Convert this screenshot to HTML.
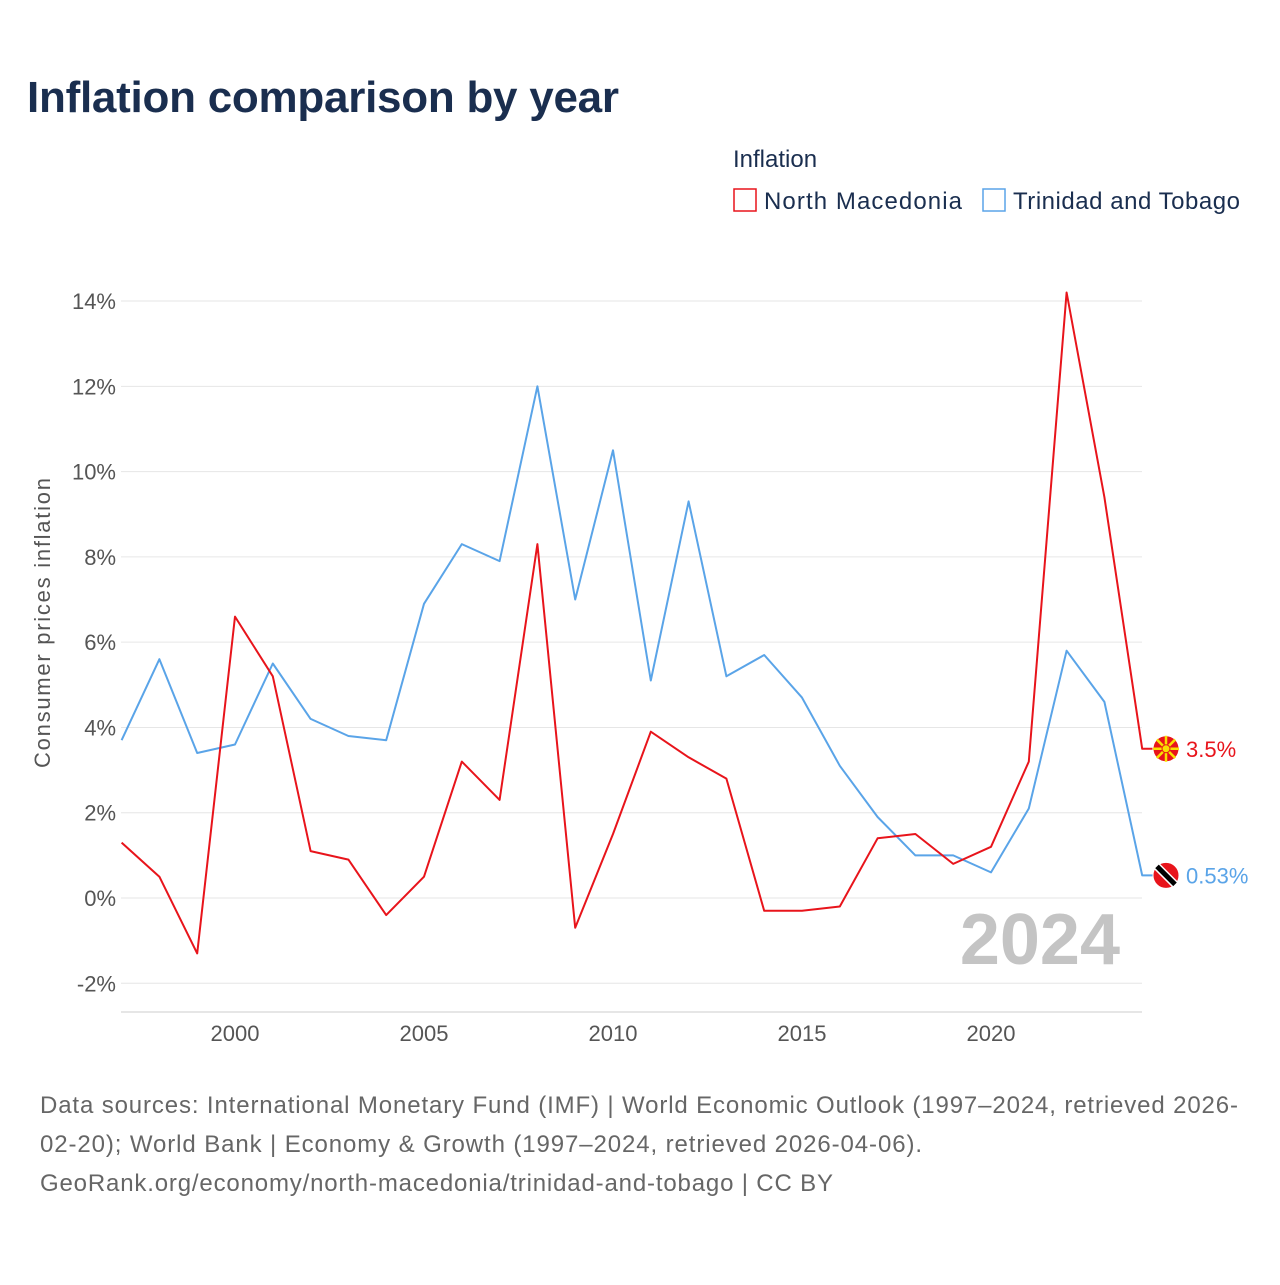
<!DOCTYPE html>
<html><head><meta charset="utf-8"><style>
body{margin:0;background:#fff;font-family:"Liberation Sans",sans-serif;}
svg text{font-family:"Liberation Sans",sans-serif;}
</style></head><body>
<svg id="chart" width="1280" height="1280" xmlns="http://www.w3.org/2000/svg">
<text x="27" y="112" font-size="44" font-weight="bold" fill="#1a2e4f" textLength="592">Inflation comparison by year</text>
<text x="733" y="167" font-size="24" fill="#1a2e4f">Inflation</text>
<g><rect x="734" y="189" width="22" height="22" fill="none" stroke="#e8141b" stroke-width="1.5"/><text x="764" y="209" font-size="24" fill="#1a2e4f" textLength="198">North Macedonia</text></g>
<g><rect x="983" y="189" width="22" height="22" fill="none" stroke="#5aa4e8" stroke-width="1.5"/><text x="1013" y="209" font-size="24" fill="#1a2e4f" textLength="227">Trinidad and Tobago</text></g>
<text transform="translate(50,623) rotate(-90)" text-anchor="middle" font-size="22" fill="#555" textLength="290">Consumer prices inflation</text>
<g id="grid"></g><g id="series"></g>
<text x="1120" y="964" text-anchor="end" font-size="72" font-weight="bold" fill="#c4c4c4">2024</text>
<text x="40" y="1113" font-size="24" fill="#666" textLength="1198">Data sources: International Monetary Fund (IMF) | World Economic Outlook (1997–2024, retrieved 2026-</text>
<text x="40" y="1152" font-size="24" fill="#666" textLength="882">02-20); World Bank | Economy &amp; Growth (1997–2024, retrieved 2026-04-06).</text>
<text x="40" y="1191" font-size="24" fill="#666" textLength="793">GeoRank.org/economy/north-macedonia/trinidad-and-tobago | CC BY</text>
</svg>
<script>
const years=[1997,1998,1999,2000,2001,2002,2003,2004,2005,2006,2007,2008,2009,2010,2011,2012,2013,2014,2015,2016,2017,2018,2019,2020,2021,2022,2023,2024];
const macedonia=[1.3,0.5,-1.3,6.6,5.2,1.1,0.9,-0.4,0.5,3.2,2.3,8.3,-0.7,1.5,3.9,3.3,2.8,-0.3,-0.3,-0.2,1.4,1.5,0.8,1.2,3.2,14.2,9.4,3.5];
const trinidad=[3.7,5.6,3.4,3.6,5.5,4.2,3.8,3.7,6.9,8.3,7.9,12.0,7.0,10.5,5.1,9.3,5.2,5.7,4.7,3.1,1.9,1.0,1.0,0.6,2.1,5.8,4.6,0.53];
const yTicks=[-2,0,2,4,6,8,10,12,14];
const xTicks=[2000,2005,2010,2015,2020];
const NS="http://www.w3.org/2000/svg";
const X=y=>121.6+(y-1997)*37.8;
const Y=v=>898-v*42.64;
function mk(t,a,p){const e=document.createElementNS(NS,t);for(const k in a)e.setAttribute(k,a[k]);p.appendChild(e);return e;}
const g=document.getElementById('grid'),s=document.getElementById('series');
yTicks.forEach(v=>{
 const l=mk('line',{x1:121,x2:1142,y1:Y(v),y2:Y(v),stroke:'#e6e6e6','stroke-width':1},g);
 
 
 const t=mk('text',{x:116,y:Y(v)+8,'text-anchor':'end','font-size':22,fill:'#555'},g);
 t.textContent=v+'%';
 
 
});
const ax=mk('line',{x1:121,x2:1142,y1:1012,y2:1012,stroke:'#ccc'},g);


xTicks.forEach(v=>{
 const t=mk('text',{x:X(v),y:1041,'text-anchor':'middle','font-size':22,fill:'#555'},g);
 t.textContent=v;
 
 
});
function series(vals,color,name,label){
 let d=vals.map((v,i)=>(i?'L':'M')+X(years[i]).toFixed(1)+' '+Y(v).toFixed(1)).join(' ');
 const last=vals[vals.length-1];
 d+=' L'+(X(years[years.length-1])+13)+' '+Y(last).toFixed(1);
 const p=mk('path',{d:d,fill:'none',stroke:color,'stroke-width':2,'stroke-linejoin':'round'},s);
 
 
 const c=mk('circle',{cx:1166,cy:Y(last),r:13,fill:'#e8141b',stroke:'#fff','stroke-width':1},s);
 
 
 const t=mk('text',{x:1186,y:Y(last)+8,'font-size':22,fill:color},s);
 t.textContent=label;
 
 
 return c;
}
series(trinidad,'#5aa4e8','trinidad-and-tobago','0.53%');
series(macedonia,'#e8141b','north-macedonia','3.5%');
const my=Y(macedonia[macedonia.length-1]);
for(let a=0;a<8;a++){
 const r=mk('line',{x1:1166,y1:my,x2:1166+13*Math.cos(a*Math.PI/4),y2:my+13*Math.sin(a*Math.PI/4),stroke:'#f8e000','stroke-width':2.5},s);
 
 
}
const sun=mk('circle',{cx:1166,cy:my,r:4,fill:'#f8e000',stroke:'#e8141b','stroke-width':1},s);


const ty=Y(trinidad[trinidad.length-1]);
const sw=mk('line',{x1:1157,y1:ty-9,x2:1175,y2:ty+9,stroke:'#fff','stroke-width':8},s);


const st=mk('line',{x1:1157,y1:ty-9,x2:1175,y2:ty+9,stroke:'#000','stroke-width':5},s);


</script>
</body></html>
